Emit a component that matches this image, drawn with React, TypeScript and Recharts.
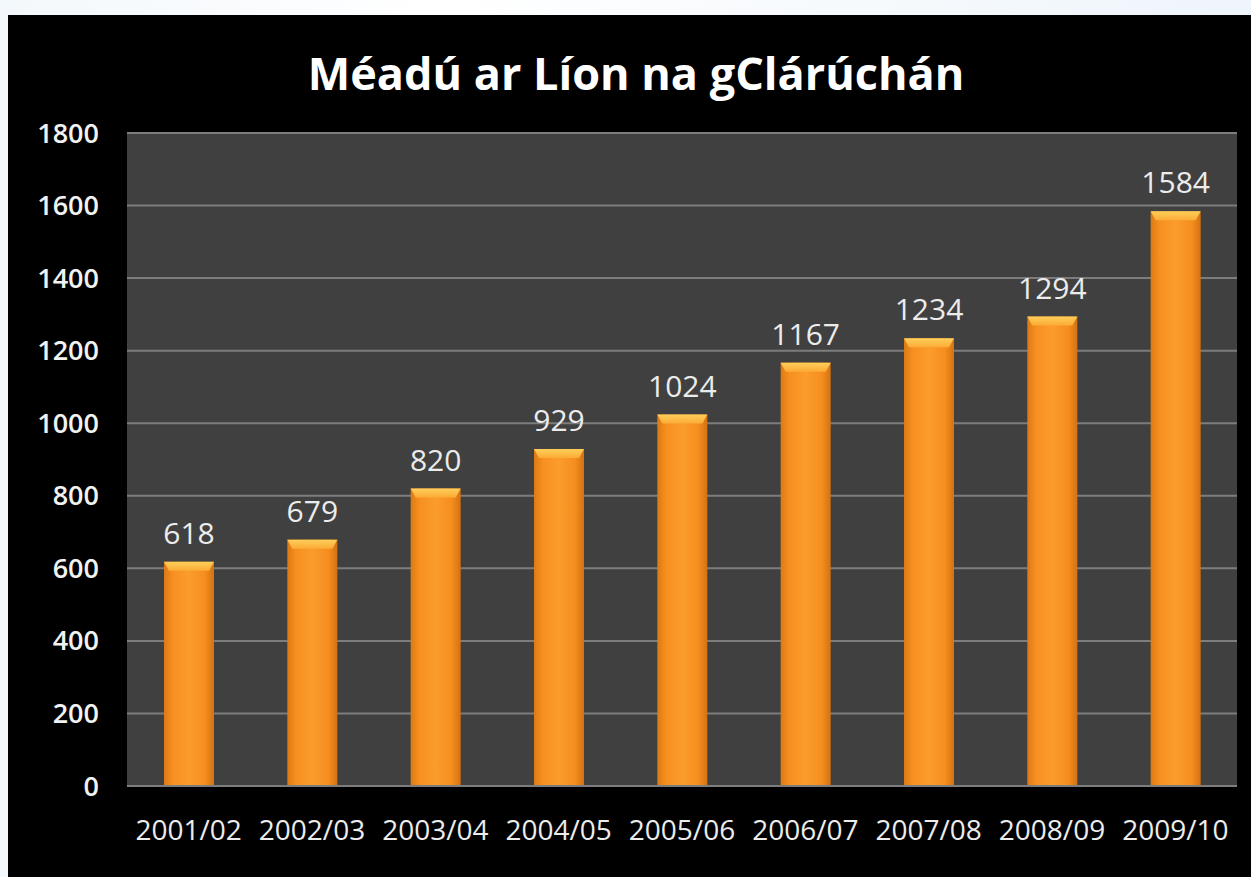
import React from "react";
import { BarChart, Bar, XAxis, YAxis, CartesianGrid, LabelList } from "recharts";

const years = ["2001/02", "2002/03", "2003/04", "2004/05", "2005/06", "2006/07", "2007/08", "2008/09", "2009/10"];
const registrations = [618, 679, 820, 929, 1024, 1167, 1234, 1294, 1584];
const yTicks = [0, 200, 400, 600, 800, 1000, 1200, 1400, 1600, 1800];

const data = years.map((year, i) => ({ year, value: registrations[i] }));

const FONT = "'Open Sans', 'DejaVu Sans', sans-serif";

// orange column with a lighter bevelled cap on top
const BevelBar = (props: any) => {
  const { x, y, width, height } = props;
  if (!height || height <= 0) return null;
  const cap = 9;
  const inset = 5;
  return (
    <g>
      <rect x={x} y={y} width={width} height={height} fill="url(#barBody)" />
      <path
        d={`M${x},${y} L${x + width},${y} L${x + width - inset},${y + cap} L${x + inset},${y + cap} Z`}
        fill="url(#barCap)"
      />
    </g>
  );
};

export default function App() {
  return (
    <div
      style={{
        position: "absolute",
        left: 0,
        top: 0,
        width: 1251,
        height: 877,
        overflow: "hidden",
        background: "linear-gradient(90deg, #f3f8fc 0%, #ffffff 35%, #eef5fb 100%)",
      }}
    >
      <div
        style={{
          position: "absolute",
          left: 8,
          top: 15,
          width: 1243,
          height: 862,
          background: "#000",
        }}
      >
        <div
          style={{
            position: "absolute",
            left: 0,
            top: 35,
            width: 1256,
            textAlign: "center",
            color: "#fff",
            fontFamily: FONT,
            fontWeight: 700,
            fontSize: 45,
            lineHeight: "45px",
          }}
        >
          Méadú ar Líon na gClárúchán
        </div>
        <BarChart
          width={1243}
          height={862}
          data={data}
          margin={{ top: 118, right: 14, left: 19, bottom: 31 }}
          barSize={50}
          style={{ position: "absolute", left: 0, top: 0 }}
        >
          <defs>
            <linearGradient id="barBody" x1="0" y1="0" x2="1" y2="0">
              <stop offset="0%" stopColor="#dc7a14" />
              <stop offset="18%" stopColor="#f79020" />
              <stop offset="50%" stopColor="#fb9c2c" />
              <stop offset="82%" stopColor="#f58e1f" />
              <stop offset="100%" stopColor="#d47212" />
            </linearGradient>
            <linearGradient id="barCap" x1="0" y1="0" x2="0" y2="1">
              <stop offset="0%" stopColor="#ffcf5a" />
              <stop offset="100%" stopColor="#fbab36" />
            </linearGradient>
          </defs>
          <CartesianGrid vertical={false} fill="#404040" stroke="#7d7d7d" strokeWidth={2} />
          <XAxis
            dataKey="year"
            height={60}
            tickLine={false}
            axisLine={{ stroke: "#7d7d7d", strokeWidth: 2 }}
            tickSize={0}
            tickMargin={34}
            interval={0}
            tick={{ fill: "#ececec", fontSize: 28, fontFamily: FONT }}
          />
          <YAxis
            width={100}
            domain={[0, 1800]}
            ticks={yTicks}
            tickLine={false}
            axisLine={false}
            tickSize={0}
            tickMargin={28}
            interval={0}
            tick={{ fill: "#f2f2f2", fontSize: 27, fontWeight: 600, fontFamily: FONT }}
          />
          <Bar dataKey="value" shape={BevelBar} isAnimationActive={false}>
            <LabelList
              dataKey="value"
              position="top"
              offset={18}
              fill="#ececec"
              fontSize={30}
              fontFamily={FONT}
            />
          </Bar>
        </BarChart>
      </div>
    </div>
  );
}
